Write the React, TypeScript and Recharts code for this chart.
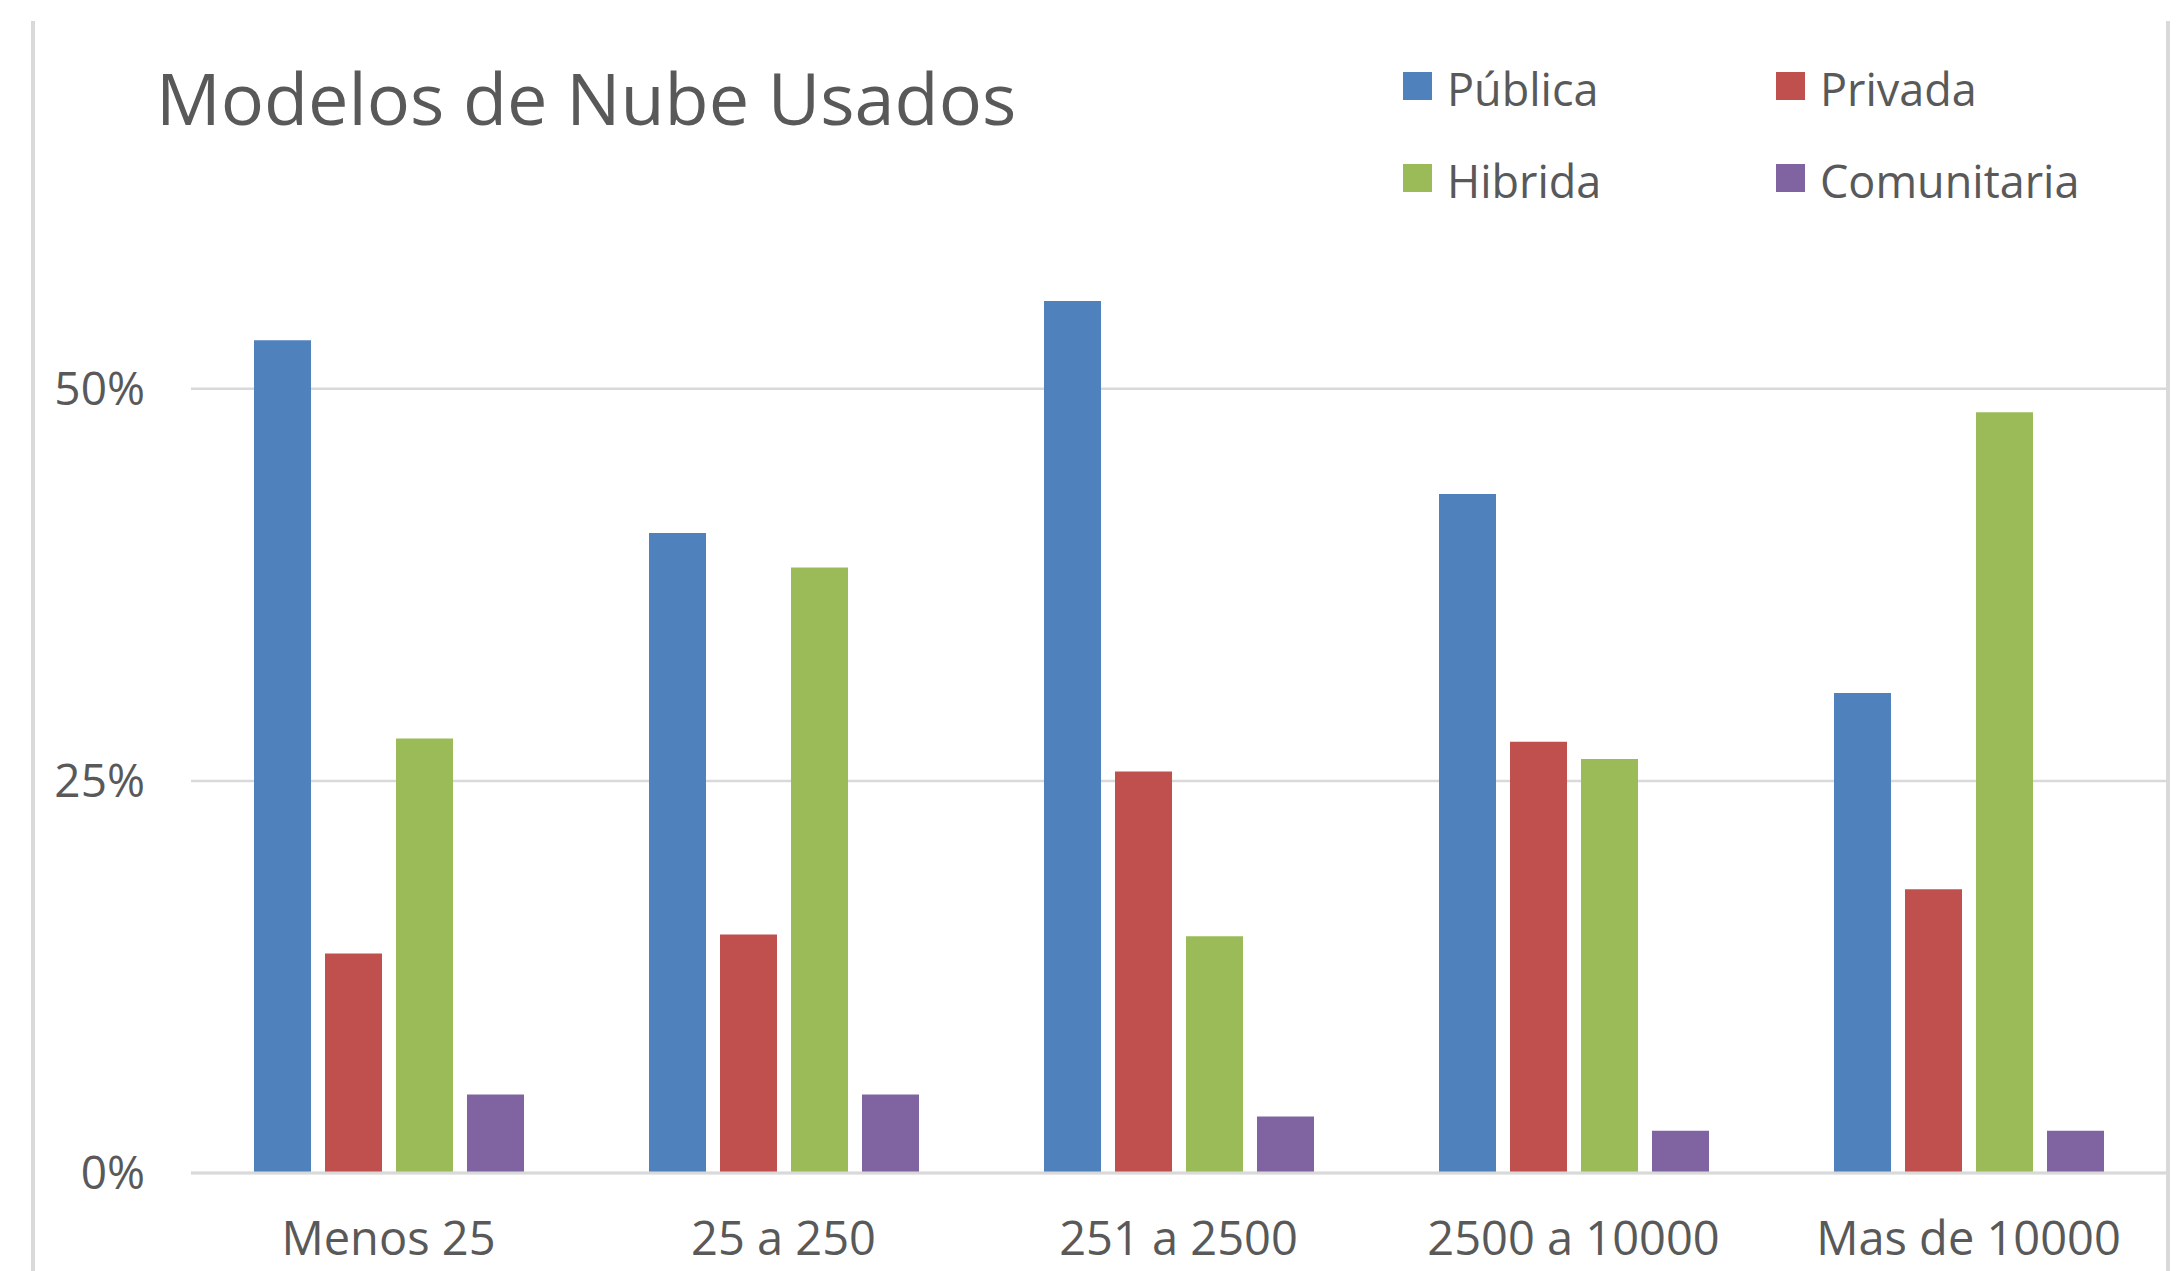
import { BarChart, Bar, XAxis, YAxis, CartesianGrid, Legend } from "recharts"

const categories = ["Menos 25", "25 a 250", "251 a 2500", "2500 a 10000", "Mas de 10000"]
const publica = [0.531, 0.408, 0.556, 0.433, 0.306]
const privada = [0.14, 0.152, 0.256, 0.275, 0.181]
const hibrida = [0.277, 0.386, 0.151, 0.264, 0.485]
const comunitaria = [0.05, 0.05, 0.036, 0.027, 0.027]
const yTicks = [0, 0.25, 0.5]

const series = [
  { key: "publica", name: "Pública", color: "#4f81bd", values: publica },
  { key: "privada", name: "Privada", color: "#c0504d", values: privada },
  { key: "hibrida", name: "Hibrida", color: "#9bbb59", values: hibrida },
  { key: "comunitaria", name: "Comunitaria", color: "#8064a2", values: comunitaria },
]

const data = categories.map((name, i) => {
  const row: Record<string, string | number> = { name }
  series.forEach((s) => {
    row[s.key] = s.values[i]
  })
  return row
})

const FONT = "'Open Sans', sans-serif"
const TEXT = "#595959"
const GRID = "#d9d9d9"

// 2 x 2 legend, top right, kept in series order
function LegendBox({ payload }: any) {
  const cols = [1403, 1776]
  const rows = [106, 198]
  const names = series.map((s) => s.name)
  const items = [...(payload || [])].sort((a: any, b: any) => names.indexOf(a.value) - names.indexOf(b.value))
  return (
    <svg width={2182} height={230} style={{ display: "block" }}>
      {items.map((p: any, i: number) => {
        const x = cols[i % 2]
        const y = rows[Math.floor(i / 2)]
        return (
          <g key={p.value}>
            <rect x={x} y={y - 34} width={29} height={28} fill={p.color} />
            <text x={x + 44} y={y} fontFamily={FONT} fontSize={45} fill={TEXT}>
              {p.value}
            </text>
          </g>
        )
      })}
    </svg>
  )
}

export default function App() {
  return (
    <div style={{ position: "absolute", left: 0, top: 0, width: 2182, height: 1271, background: "#fff" }}>
      <div style={{ position: "absolute", left: 31, top: 21, width: 4, height: 1250, background: GRID }} />
      <div style={{ position: "absolute", left: 2166, top: 21, width: 4, height: 1250, background: GRID }} />
      <svg width={2182} height={200} style={{ position: "absolute", left: 0, top: 0 }}>
        <text x={156} y={125} fontFamily={FONT} fontSize={72} fill={TEXT}>
          Modelos de Nube Usados
        </text>
      </svg>
      <BarChart
        width={2182}
        height={1271}
        data={data}
        margin={{ top: 232, right: 16, bottom: 0, left: 0 }}
        barSize={57}
        barGap={14}
      >
        <CartesianGrid vertical={false} horizontalValues={yTicks} stroke={GRID} strokeWidth={2.5} />
        <XAxis
          dataKey="name"
          height={98}
          interval={0}
          tickLine={false}
          tickSize={0}
          tickMargin={49}
          axisLine={{ stroke: GRID, strokeWidth: 3 }}
          tick={{ fontFamily: FONT, fontSize: 47, fill: TEXT }}
        />
        <YAxis
          width={191}
          domain={[0, 0.6]}
          ticks={yTicks}
          axisLine={false}
          tickLine={false}
          tickSize={0}
          tickMargin={46}
          tickFormatter={(v) => `${Math.round(v * 100)}%`}
          tick={{ fontFamily: FONT, fontSize: 46, fill: TEXT }}
        />
        <Legend
          layout="horizontal"
          verticalAlign="middle"
          align="center"
          wrapperStyle={{ left: 0, top: 0, width: 2182, height: 230 }}
          content={<LegendBox />}
        />
        {series.map((s) => (
          <Bar key={s.key} dataKey={s.key} name={s.name} fill={s.color} isAnimationActive={false} />
        ))}
      </BarChart>
    </div>
  )
}
